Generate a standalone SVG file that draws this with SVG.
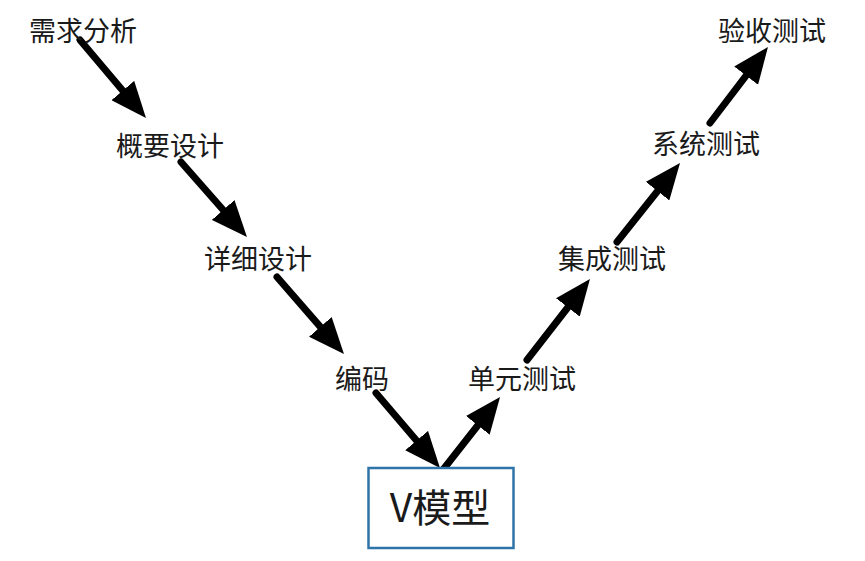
<svg xmlns="http://www.w3.org/2000/svg" width="865" height="561" viewBox="0 0 865 561">
<style>
.lbl{font-family:"Noto Sans CJK SC","Noto Sans",sans-serif;font-size:27px;fill:#1a1a1a;text-anchor:middle}
.big{font-family:"Noto Sans CJK SC","Noto Sans",sans-serif;font-size:39px;fill:#1a1a1a;text-anchor:middle}
.arr{stroke:#000;stroke-width:7;fill:none;stroke-linecap:round;marker-end:url(#head)}
.box{fill:#fff;stroke:#2f74a8;stroke-width:2.5}
</style>
<defs>
<marker id="head" markerUnits="userSpaceOnUse" markerWidth="36" markerHeight="30" refX="10" refY="15" orient="auto" viewBox="0 0 36 30">
<path d="M0,0 L36,15 L0,30 z" fill="#000"/>
</marker>
</defs>
<rect width="865" height="561" fill="#fff"/>
<g id="connectors">
<line class="arr" x1="80" y1="40" x2="129.2" y2="98.2"/>
<line class="arr" x1="181" y1="162" x2="229.8" y2="217.5"/>
<line class="arr" x1="277" y1="277" x2="326.9" y2="334.4"/>
<line class="arr" x1="376" y1="393" x2="423.1" y2="448.2"/>
<line class="arr" x1="442" y1="471" x2="484" y2="417.5"/>
<line class="arr" x1="527" y1="360" x2="574" y2="299.5"/>
<line class="arr" x1="617" y1="242" x2="663.8" y2="183.3"/>
<line class="arr" x1="710" y1="123" x2="752.2" y2="67.7"/>
</g>
<g id="n1"><text class="lbl" x="83" y="41">需求分析</text></g>
<g id="n2"><text class="lbl" x="170" y="156">概要设计</text></g>
<g id="n3"><text class="lbl" x="258" y="269">详细设计</text></g>
<g id="n4"><text class="lbl" x="362" y="389">编码</text></g>
<g id="n5"><rect class="box" x="368.5" y="468" width="145" height="80"/><text class="big" x="440" y="522">V模型</text></g>
<g id="n6"><text class="lbl" x="522" y="389">单元测试</text></g>
<g id="n7"><text class="lbl" x="612" y="269">集成测试</text></g>
<g id="n8"><text class="lbl" x="706" y="154">系统测试</text></g>
<g id="n9"><text class="lbl" x="772" y="41">验收测试</text></g>
</svg>
